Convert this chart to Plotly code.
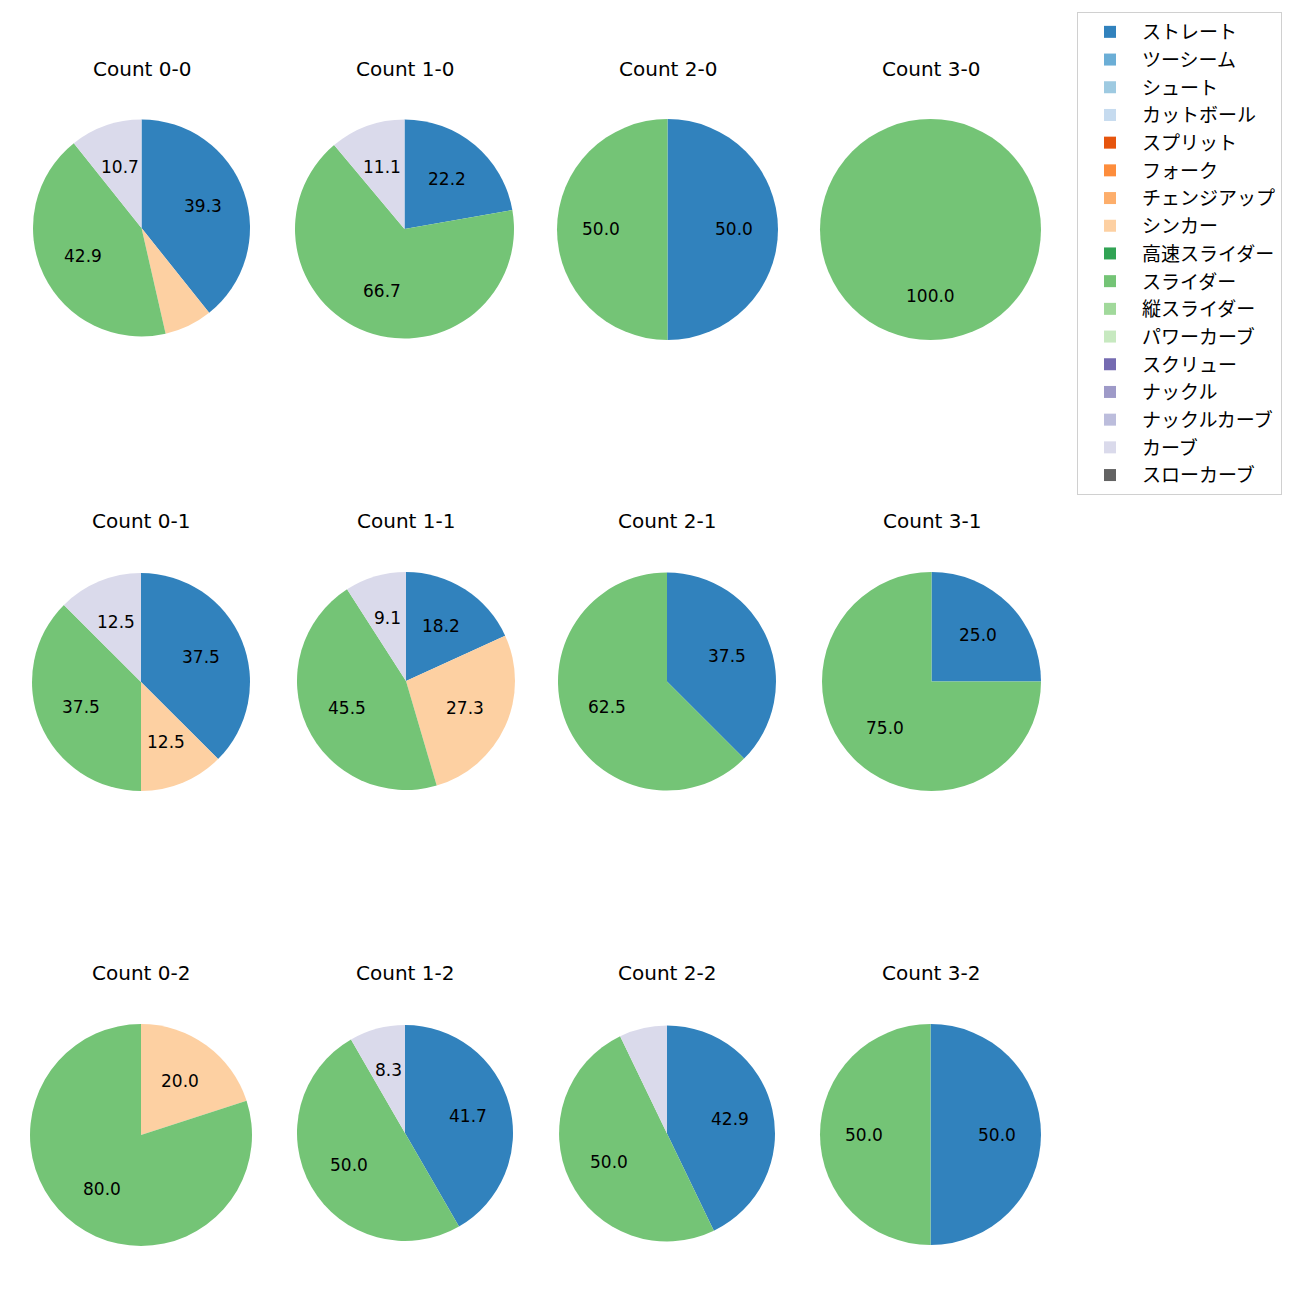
import math
import plotly.graph_objects as go

# ---- data ----
pitch_types = ["ストレート", "ツーシーム", "シュート", "カットボール", "スプリット", "フォーク",
               "チェンジアップ", "シンカー", "高速スライダー", "スライダー", "縦スライダー",
               "パワーカーブ", "スクリュー", "ナックル", "ナックルカーブ", "カーブ", "スローカーブ"]
colors = ["#3182bd", "#6baed6", "#9ecae1", "#c6dbef", "#e6550d", "#fd8d3c", "#fdae6b", "#fdd0a2",
          "#31a354", "#74c476", "#a1d99b", "#c7e9c0", "#756bb1", "#9e9ac8", "#bcbddc", "#dadaeb",
          "#636363"]

counts_titles = ["Count 0-0", "Count 1-0", "Count 2-0", "Count 3-0",
                 "Count 0-1", "Count 1-1", "Count 2-1", "Count 3-1",
                 "Count 0-2", "Count 1-2", "Count 2-2", "Count 3-2"]

# pitch counts per type (ストレート, シンカー, スライダー, カーブ); others zero
straight = [11, 2, 1, 0, 3, 2, 3, 1, 0, 5, 6, 1]
sinker   = [2, 0, 0, 0, 1, 3, 0, 0, 1, 0, 0, 0]
slider   = [12, 6, 1, 1, 3, 5, 5, 3, 4, 6, 7, 1]
curve    = [3, 1, 0, 0, 1, 1, 0, 0, 0, 1, 1, 0]

# ---- layout (pixel geometry of each pie) ----
W = H = 1300
OFF = 8  # page body margin
centers = [(141.5, 228), (404.5, 229), (667.5, 229.5), (930.5, 229.5),
           (141, 682), (406, 681), (667, 681.5), (931.5, 681.5),
           (141, 1135), (405, 1133), (667, 1133.5), (930.5, 1134.5)]
radii = [108.5, 109.5, 110.5, 110.5, 109, 109, 109, 109.5, 111, 108, 108, 110.5]
title_y = [69, 69, 69, 69, 521, 521, 521, 521, 973, 973, 973, 973]
FONT_JP = "Noto Sans CJK JP"
FONT_NUM = "DejaVu Sans"


def px(x):
    return (x - OFF) / W


def py(y):
    return 1 - (y - OFF) / H


fig = go.Figure()
annotations = []
idx_st = pitch_types.index("ストレート")
idx_si = pitch_types.index("シンカー")
idx_sl = pitch_types.index("スライダー")
idx_cu = pitch_types.index("カーブ")

for i, title in enumerate(counts_titles):
    vals = [0] * len(pitch_types)
    vals[idx_st] = straight[i]
    vals[idx_si] = sinker[i]
    vals[idx_sl] = slider[i]
    vals[idx_cu] = curve[i]
    cx, cy = centers[i]
    r = radii[i]
    fig.add_trace(go.Pie(
        labels=pitch_types, values=vals, sort=False, direction="clockwise", rotation=0,
        marker=dict(colors=colors, line=dict(width=0)), textinfo="none",
        hoverinfo="label+percent", showlegend=(i == 0),
        domain=dict(x=[px(cx - r), px(cx + r)], y=[py(cy + r), py(cy - r)]),
    ))
    total = sum(vals)
    cum = 0.0
    for v in vals:
        if v <= 0:
            continue
        pct = 100.0 * v / total
        mid = cum + v / 2.0
        cum += v
        if pct < 8:
            continue
        ang = math.radians(90 - 360.0 * mid / total)
        tx = cx + 0.6 * r * math.cos(ang)
        ty = cy - 0.6 * r * math.sin(ang)
        annotations.append(dict(x=px(tx), y=py(ty), xref="paper", yref="paper",
                                text=f"{pct:.1f}", showarrow=False,
                                font=dict(family=FONT_NUM, size=17, color="black"),
                                xanchor="center", yanchor="middle"))
    annotations.append(dict(x=px(cx), y=py(title_y[i]), xref="paper", yref="paper",
                            text=title, showarrow=False,
                            font=dict(family=FONT_NUM, size=20, color="black"),
                            xanchor="center", yanchor="middle"))

fig.update_layout(
    width=W, height=H, margin=dict(l=0, r=0, t=0, b=0),
    paper_bgcolor="white", plot_bgcolor="white",
    annotations=annotations,
    legend=dict(x=px(1077), y=py(12), xanchor="left", yanchor="top",
                bordercolor="#d0d0d0", borderwidth=1, bgcolor="white", itemwidth=54,
                font=dict(family=FONT_JP, size=19, color="black"), traceorder="normal"),
    font=dict(family=FONT_JP),
)
fig.write_html("out.html")
